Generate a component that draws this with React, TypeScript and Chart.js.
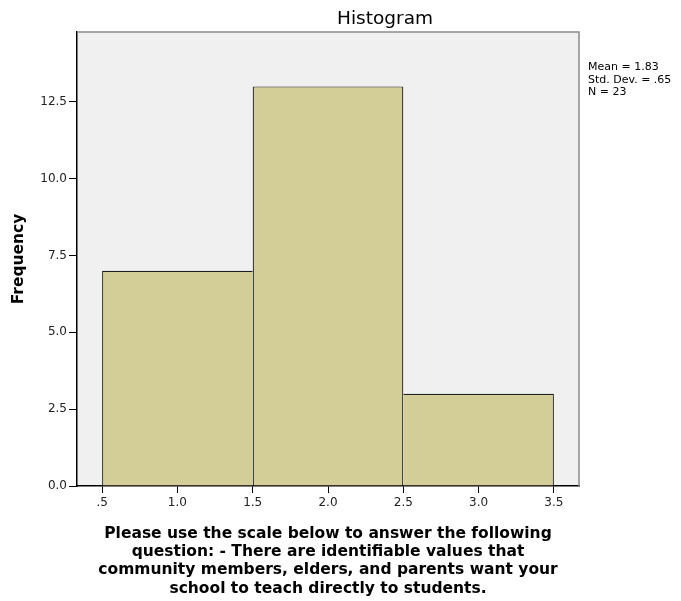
import React, { useEffect, useRef } from "react";
import { Chart, registerables } from "chart.js";

Chart.register(...registerables);

const binCenters = [1.0, 2.0, 3.0];
const frequencies = [7, 13, 3];
const xTickValues = [0.5, 1.0, 1.5, 2.0, 2.5, 3.0, 3.5];
const yTickValues = [0, 2.5, 5.0, 7.5, 10.0, 12.5];
const statsLines = ["Mean = 1.83", "Std. Dev. = .65", "N = 23"];
const chartTitle = "Histogram";
const yTitle = "Frequency";
const xTitleLines = [
  "Please use the scale below to answer the following",
  "question: - There are identifiable values that",
  "community members, elders, and parents want your",
  "school to teach directly to students.",
];

const decorPlugin = {
  id: "spssDecor",
  beforeDraw(chart: any) {
    const { ctx, chartArea } = chart;
    ctx.save();
    ctx.fillStyle = "#ffffff";
    ctx.fillRect(0, 0, chart.width, chart.height);
    ctx.fillStyle = "#f0f0f0";
    ctx.fillRect(chartArea.left, chartArea.top, chartArea.right - chartArea.left, chartArea.bottom - chartArea.top);
    ctx.restore();
  },
  afterDraw(chart: any) {
    const { ctx, chartArea } = chart;
    ctx.save();
    ctx.strokeStyle = "#8a8a8a";
    ctx.lineWidth = 1.5;
    ctx.beginPath();
    ctx.moveTo(chartArea.left, chartArea.top);
    ctx.lineTo(chartArea.right, chartArea.top);
    ctx.lineTo(chartArea.right, chartArea.bottom);
    ctx.stroke();
    ctx.fillStyle = "#000000";
    ctx.font = "18.5px 'DejaVu Sans'";
    ctx.textAlign = "center";
    ctx.textBaseline = "alphabetic";
    ctx.fillText(chartTitle, 385, 24);
    ctx.font = "11px 'DejaVu Sans'";
    ctx.textAlign = "left";
    statsLines.forEach((s, i) => ctx.fillText(s, 588, 70 + i * 12.5));
    ctx.restore();
  },
};

const BW = 1.2;

export default function App() {
  const ref = useRef<HTMLCanvasElement | null>(null);
  useEffect(() => {
    if (!ref.current) return;
    const chart = new Chart(ref.current, {
      type: "bar",
      data: {
        datasets: [
          {
            data: binCenters.map((c, i) => ({ x: c, y: frequencies[i] })),
            backgroundColor: "#d3ce98",
            borderColor: "#1e1e1e",
            // one shared edge between adjacent bins, drawn by the taller bin
            borderWidth: (c: any) => {
              const i = c.dataIndex;
              const h = frequencies[i];
              const prev = i > 0 ? frequencies[i - 1] : -Infinity;
              const next = i < frequencies.length - 1 ? frequencies[i + 1] : -Infinity;
              return {
                top: BW,
                left: h >= prev ? BW : 0,
                right: h > next ? BW : 0,
                bottom: 0,
              };
            },
            borderSkipped: false,
            // ruler spacing is the 0.5 tick step; bins are 1.0 wide
            barPercentage: 2,
            categoryPercentage: 1,
          } as any,
        ],
      },
      options: {
        animation: false,
        responsive: false,
        devicePixelRatio: 1,
        layout: { padding: { top: 32, right: 102, bottom: 0, left: 0 } },
        plugins: {
          legend: { display: false },
          title: { display: false },
          tooltip: { enabled: false },
        },
        scales: {
          x: {
            type: "linear",
            offset: false,
            min: 1 / 3,
            max: 11 / 3,
            afterFit: (s: any) => {
              s.height = 115;
            },
            afterBuildTicks: (s: any) => {
              s.ticks = xTickValues.map((v) => ({ value: v }));
            },
            ticks: {
              color: "#222222",
              font: { family: "'DejaVu Sans'", size: 12 },
              padding: 3,
              maxRotation: 0,
              autoSkip: false,
              callback: (v: any) => {
                const n = Number(v);
                const s = n.toFixed(1);
                return n > 0 && n < 1 ? s.replace(/^0/, "") : s;
              },
            },
            grid: {
              offset: false,
              drawOnChartArea: false,
              drawTicks: true,
              tickLength: 7,
              color: "#000000",
              lineWidth: 1,
            },
            border: { display: true, color: "#000000", width: 1.5 },
            title: {
              display: true,
              text: xTitleLines,
              color: "#000000",
              font: { family: "'DejaVu Sans'", size: 15.5, weight: "bold", lineHeight: 18.3 / 15.5 },
              padding: { top: 0, bottom: 3.3 },
            },
          },
          y: {
            type: "linear",
            min: 0,
            max: 14.77,
            afterFit: (s: any) => {
              s.width = 77;
            },
            afterBuildTicks: (s: any) => {
              s.ticks = yTickValues.map((v) => ({ value: v }));
            },
            ticks: {
              color: "#222222",
              font: { family: "'DejaVu Sans'", size: 12 },
              padding: 2,
              autoSkip: false,
              callback: (v: any) => Number(v).toFixed(1),
            },
            grid: {
              drawOnChartArea: false,
              drawTicks: true,
              tickLength: 8,
              color: "#000000",
              lineWidth: 1,
            },
            border: { display: true, color: "#000000", width: 1.5 },
            title: {
              display: true,
              text: yTitle,
              color: "#000000",
              font: { family: "'DejaVu Sans'", size: 15.5, weight: "bold", lineHeight: 1.1 },
              padding: { top: 10.7, bottom: 0 },
            },
          },
        },
      } as any,
      plugins: [decorPlugin],
    });
    return () => chart.destroy();
  }, []);
  return (
    <div style={{ position: "absolute", left: 0, top: 0, width: 681, height: 601, background: "#fff" }}>
      <canvas ref={ref} width={681} height={601} style={{ width: 681, height: 601, display: "block" }} />
    </div>
  );
}
